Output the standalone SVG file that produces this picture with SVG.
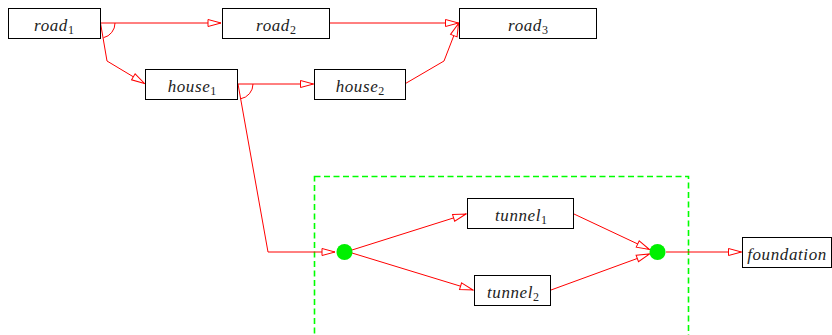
<svg xmlns="http://www.w3.org/2000/svg" width="832" height="335" viewBox="0 0 832 335">
<style>
.box{fill:#fff;stroke:#000;stroke-width:1}
.lbl{font-family:"Liberation Serif",serif;font-style:italic;font-size:17px;letter-spacing:0.6px;fill:#222;text-anchor:middle}
.sub{font-size:12px;font-style:normal;letter-spacing:0}
.e{fill:none;stroke:#f00;stroke-width:1}
.ea{fill:none;stroke:#f00;stroke-width:1;marker-end:url(#ah)}
.j{fill:#00f000}
</style>
<defs>
<marker id="ah" markerUnits="userSpaceOnUse" markerWidth="15" markerHeight="9" refX="13" refY="3.5" orient="auto" viewBox="-1 -1 15 9">
<path d="M0,0 L13,3.5 L0,7 Z" fill="#fff" stroke="#f00" stroke-width="1"/>
</marker>
</defs>
<rect x="314.5" y="176.5" width="374" height="170" fill="none" stroke="#00ff00" stroke-width="1.6" stroke-dasharray="6 3.5"/>
<g id="connectors">
<path class="ea" d="M100.5,23 L221,23"/>
<path class="e" d="M115,23 A15,15 0 0 1 103.5,37.7"/>
<path class="ea" d="M100.5,23 L107,61 L144.5,83.5"/>
<path class="ea" d="M329.5,23 L458.5,23"/>
<path class="ea" d="M238,84 L313.5,84"/>
<path class="e" d="M253,84 A15,15 0 0 1 240.5,98.8"/>
<path class="ea" d="M405.5,83.5 L444,61 L458.5,23.5"/>
<path class="ea" d="M238,84 L268,252 L335,252"/>
<path class="ea" d="M352,250 L466,214"/>
<path class="ea" d="M352,253 L473,290"/>
<path class="ea" d="M574,214 L649.5,249.5"/>
<path class="ea" d="M551,290 L649.5,254"/>
<path class="ea" d="M666,252 L741.5,252"/>
</g>
<g id="road1"><rect class="box" x="8.5" y="8.5" width="92" height="30"/><text class="lbl" x="54" y="30.5">road<tspan class="sub" dy="3">1</tspan></text></g>
<g id="road2"><rect class="box" x="222.5" y="8.5" width="107" height="30"/><text class="lbl" x="276" y="30.5">road<tspan class="sub" dy="3">2</tspan></text></g>
<g id="road3"><rect class="box" x="459.5" y="8.5" width="137" height="30"/><text class="lbl" x="528" y="30.5">road<tspan class="sub" dy="3">3</tspan></text></g>
<g id="house1"><rect class="box" x="145.5" y="69.5" width="92" height="30"/><text class="lbl" x="192" y="91.5">house<tspan class="sub" dy="3">1</tspan></text></g>
<g id="house2"><rect class="box" x="314.5" y="69.5" width="91" height="30"/><text class="lbl" x="360" y="91.5">house<tspan class="sub" dy="3">2</tspan></text></g>
<g id="tunnel1"><rect class="box" x="467.5" y="198.5" width="106" height="30"/><text class="lbl" x="521" y="220.5">tunnel<tspan class="sub" dy="3">1</tspan></text></g>
<g id="tunnel2"><rect class="box" x="474.5" y="275.5" width="76" height="30"/><text class="lbl" x="513" y="297.5">tunnel<tspan class="sub" dy="3">2</tspan></text></g>
<g id="foundation"><rect class="box" x="742.5" y="237.5" width="89" height="30"/><text class="lbl" x="787" y="259.5" letter-spacing="1px">foundation</text></g>
<g id="junction1"><circle class="j" cx="344.5" cy="252" r="8"/></g>
<g id="junction2"><circle class="j" cx="657.5" cy="252" r="8"/></g>
</svg>
